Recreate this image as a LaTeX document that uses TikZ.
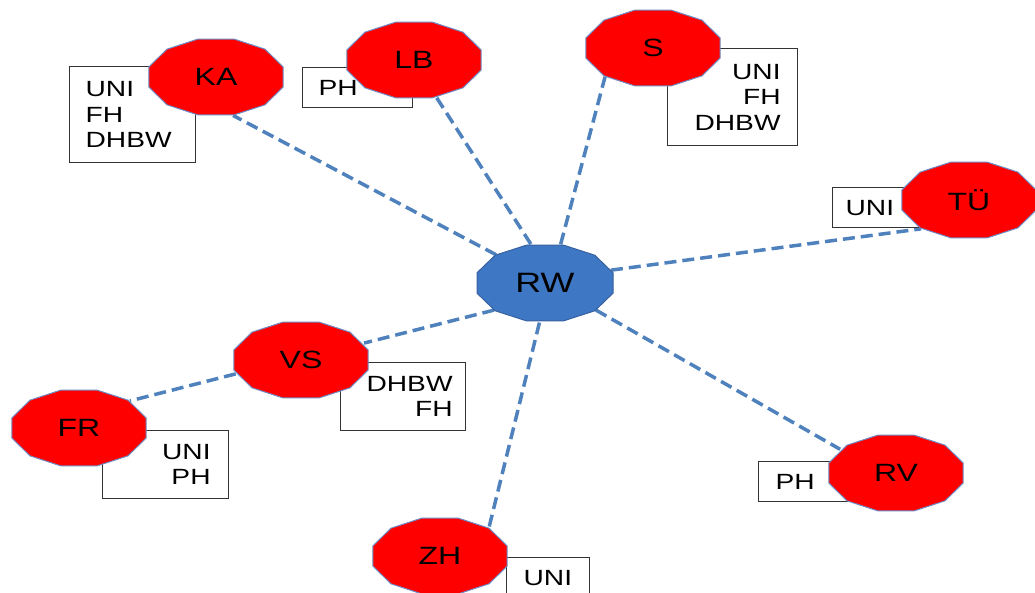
\documentclass[tikz,border=0pt]{standalone}
\usepackage{fontspec}
\setmainfont[FakeStretch=1.28]{Liberation Sans}
\usetikzlibrary{shapes.geometric}
\definecolor{linkblue}{RGB}{79,129,189}
\definecolor{rwblue}{RGB}{62,119,196}
\definecolor{rwedge}{RGB}{55,96,160}
\definecolor{cityedge}{RGB}{110,140,195}
\pgfdeclarelayer{lines}
\pgfdeclarelayer{boxes}
\pgfdeclarelayer{polys}
\pgfsetlayers{lines,boxes,polys,main}
\begin{document}
\begin{tikzpicture}[x=1pt,y=-1pt,
  city/.style={ellipse, minimum width=139pt, minimum height=79pt, inner sep=0pt, font=\fontsize{25}{30}\selectfont},
  hub/.style={city, font=\fontsize{28}{32}\selectfont},
  infobox/.style={draw=black!80, line width=1.2pt, fill=white, inner sep=0pt, font=\fontsize{22}{25.5}\selectfont},
  link/.style={draw=linkblue, line width=3.5pt, dash pattern=on 12pt off 6pt},
  poly/.style={fill=red, draw=cityedge, line width=1pt},
  hubpoly/.style={fill=rwblue, draw=rwedge, line width=1pt}]
\useasboundingbox (0,0) rectangle (1035,593);

% city nodes (text)
\node[hub]  (RW) at (545,283) {RW};
\node[city] (KA) at (216,77)  {KA};
\node[city] (LB) at (414,60)  {LB};
\node[city] (S)  at (653,48)  {S};
\node[city] (TU) at (969,200) {TÜ};
\node[city] (VS) at (301,360) {VS};
\node[city] (FR) at (79,428)  {FR};
\node[city] (ZH) at (440,556) {ZH};
\node[city] (RV) at (896,473) {RV};

% info boxes
\begin{pgfonlayer}{boxes}
\node[infobox, anchor=north west, minimum width=126pt, minimum height=96pt, text width=94pt, align=left] (KAbox) at (69,66) {UNI\\FH\\DHBW};
\node[infobox, anchor=north west, minimum width=110pt, minimum height=40pt, text width=78pt, align=left] (LBbox) at (302,67) {PH};
\node[infobox, anchor=north west, minimum width=130pt, minimum height=97pt, text width=96pt, align=right] (Sbox) at (667,48) {UNI\\FH\\DHBW};
\node[infobox, anchor=north west, minimum width=88pt, minimum height=40pt, text width=62pt, align=left] (TUbox) at (832,187) {UNI};
\node[infobox, anchor=north west, minimum width=125pt, minimum height=68pt, text width=99pt, align=right] (VSbox) at (340,362) {DHBW\\FH};
\node[infobox, anchor=north west, minimum width=126pt, minimum height=68pt, text width=90pt, align=right] (FRbox) at (102,430) {UNI\\PH};
\node[infobox, anchor=north west, minimum width=83pt, minimum height=40pt, text width=49pt, align=left] (ZHbox) at (506,557) {UNI};
\node[infobox, anchor=north west, minimum width=92pt, minimum height=40pt, text width=58pt, align=left] (RVbox) at (758,461) {PH};
\end{pgfonlayer}

% dodecagon shapes
\begin{pgfonlayer}{polys}
\foreach \n in {KA,LB,S,TU,VS,FR,ZH,RV}{
  \filldraw[poly, shift={(\n.center)}] plot[domain=15:375, samples=13] ({69.4*cos(\x)},{39.3*sin(\x)}) -- cycle;
}
\filldraw[hubpoly, shift={(RW.center)}] plot[domain=15:375, samples=13] ({70.4*cos(\x)},{39.3*sin(\x)}) -- cycle;
\end{pgfonlayer}

% connectors
\begin{pgfonlayer}{lines}
\draw[link] (RW.150)  -- (KA.-66);
\draw[link] (RW.110)  -- (LB.-59);
\draw[link] (RW.68)   -- (S.-149);
\draw[link] (RW.11)   -- (TU.-149);
\draw[link] (RW.-28)  -- (RV.157);
\draw[link] (RW.-98)  -- (ZH.30);
\draw[link] (RW.-152) -- (VS.15);
\draw[link] (VS.-168) -- (FR.28);
\end{pgfonlayer}
\end{tikzpicture}
\end{document}
